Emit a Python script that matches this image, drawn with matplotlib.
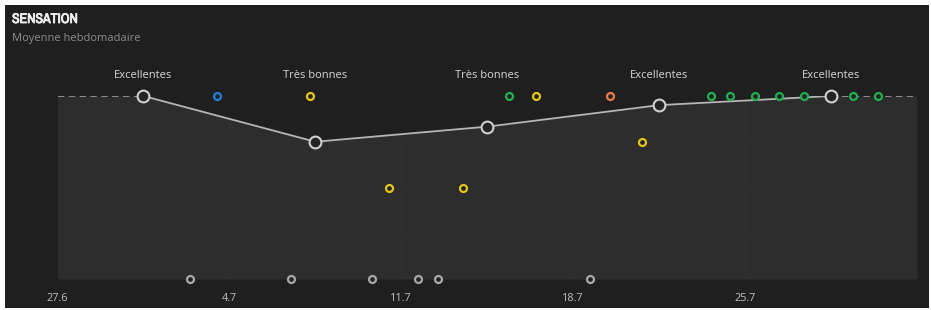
import matplotlib
matplotlib.use('Agg')
import matplotlib.pyplot as plt
import matplotlib.patheffects as pe
from matplotlib.patches import Rectangle
from matplotlib import font_manager

# days counted from 27 June
tick_days = [0, 7, 14, 21, 28]
tick_labels = ['27.6', '4.7', '11.7', '18.7', '25.7']

week_mid = [3.5, 10.5, 17.5, 24.5, 31.5]
week_avg = [4.0, 3.0, 3.33, 3.8, 4.0]
week_label = ['Excellentes', 'Très bonnes', 'Très bonnes', 'Excellentes', 'Excellentes']

day_pos = [5.4, 6.5, 9.5, 10.3, 12.8, 13.5, 14.7, 15.5, 16.5, 18.4, 19.5,
           21.7, 22.5, 23.8, 26.6, 27.4, 28.4, 29.4, 30.4, 31.4, 32.4, 33.4]
day_val = [0, 4, 0, 4, 0, 2, 0, 0, 2, 4, 4,
           0, 4, 3, 4, 4, 4, 4, 4, 4, 4, 4]
day_kind = ['none', 'blue', 'none', 'yellow', 'none', 'yellow', 'none', 'none', 'yellow', 'green', 'yellow',
            'none', 'orange', 'yellow', 'green', 'green', 'green', 'green', 'green', 'green', 'green', 'green']

colors = {'none': '#a8a8a8', 'blue': '#1f7fd8', 'yellow': '#e6c619',
          'green': '#22b04f', 'orange': '#ec7a4c'}

names = sorted({f.name for f in font_manager.fontManager.ttflist})
cond = [n for n in names if 'Condensed' in n or 'Narrow' in n]
title_family = cond + ['DejaVu Sans']

W, H = 931, 310
fig = plt.figure(figsize=(W / 100, H / 100), dpi=100, facecolor='white')
fig.patches.append(Rectangle((5 / W, 2 / H), 924 / W, 303 / H, transform=fig.transFigure,
                             facecolor='#1f1f1f', edgecolor='none', zorder=-10))

ax = fig.add_axes([57.5 / W, (H - 279) / H, (917 - 57.5) / W, (279 - 96) / H])
ax.set_facecolor('none')
ax.set_xlim(0, 35)
ax.set_ylim(0, 4)
for s in ax.spines.values():
    s.set_visible(False)

fx = [0] + week_mid + [35]
fy = [week_avg[0]] + week_avg + [week_avg[-1]]
area = ax.fill_between(fx, fy, 0, color='#2d2d2d', lw=0, zorder=1)
clip = area.get_paths()[0]

grid = []
for d in [7, 14, 21, 28]:
    grid.append(ax.axvline(d, color='#313131', lw=0.8, zorder=1.5))
for v in [1, 2, 3]:
    grid.append(ax.axhline(v, color='#303030', lw=0.8, zorder=1.5))
for g in grid:
    g.set_clip_path(clip, transform=ax.transData)

ax.plot([0, week_mid[0]], [week_avg[0]] * 2, color='#969696', lw=1.3, ls=(0, (3.5, 2.5)), zorder=2)
ax.plot([week_mid[-1], 35], [week_avg[-1]] * 2, color='#969696', lw=1.3, ls=(0, (3.5, 2.5)), zorder=2)
ax.plot(week_mid, week_avg, color='#b5b5b5', lw=1.3, zorder=2)

for d, v, k in zip(day_pos, day_val, day_kind):
    ax.plot(d, v, 'o', ms=5, mfc='#222222', mec=colors[k], mew=1.6, zorder=3, clip_on=False)

ax.plot(week_mid, week_avg, 'o', ms=8.5, mfc='#252525', mec='#d0d0d0', mew=1.5,
        zorder=4, clip_on=False, ls='none')

for d, v, t in zip(week_mid, week_avg, week_label):
    ax.annotate(t, (d, 4), xytext=(0, 15), textcoords='offset points', ha='center',
                va='center', color='#d8d8d8', fontsize=8, family='Open Sans')

ax.set_yticks([])
ax.set_xticks(tick_days)
ax.set_xticklabels(tick_labels, color='#c0c0c0', fontsize=7.8, family='Open Sans')
ax.tick_params(axis='x', length=0, pad=10)

fig.text(12 / W, 1 - 19 / H, 'SENSATION', color='#f0f0f0', fontsize=10, fontweight='bold',
         family=title_family, va='center',
         path_effects=[pe.withStroke(linewidth=0.6, foreground='#f0f0f0')])
fig.text(12 / W, 1 - 39 / H, 'Moyenne hebdomadaire', color='#8c8c8c', fontsize=8,
         family='Open Sans', va='center')

fig.savefig('out.png', dpi=100, facecolor='white')
